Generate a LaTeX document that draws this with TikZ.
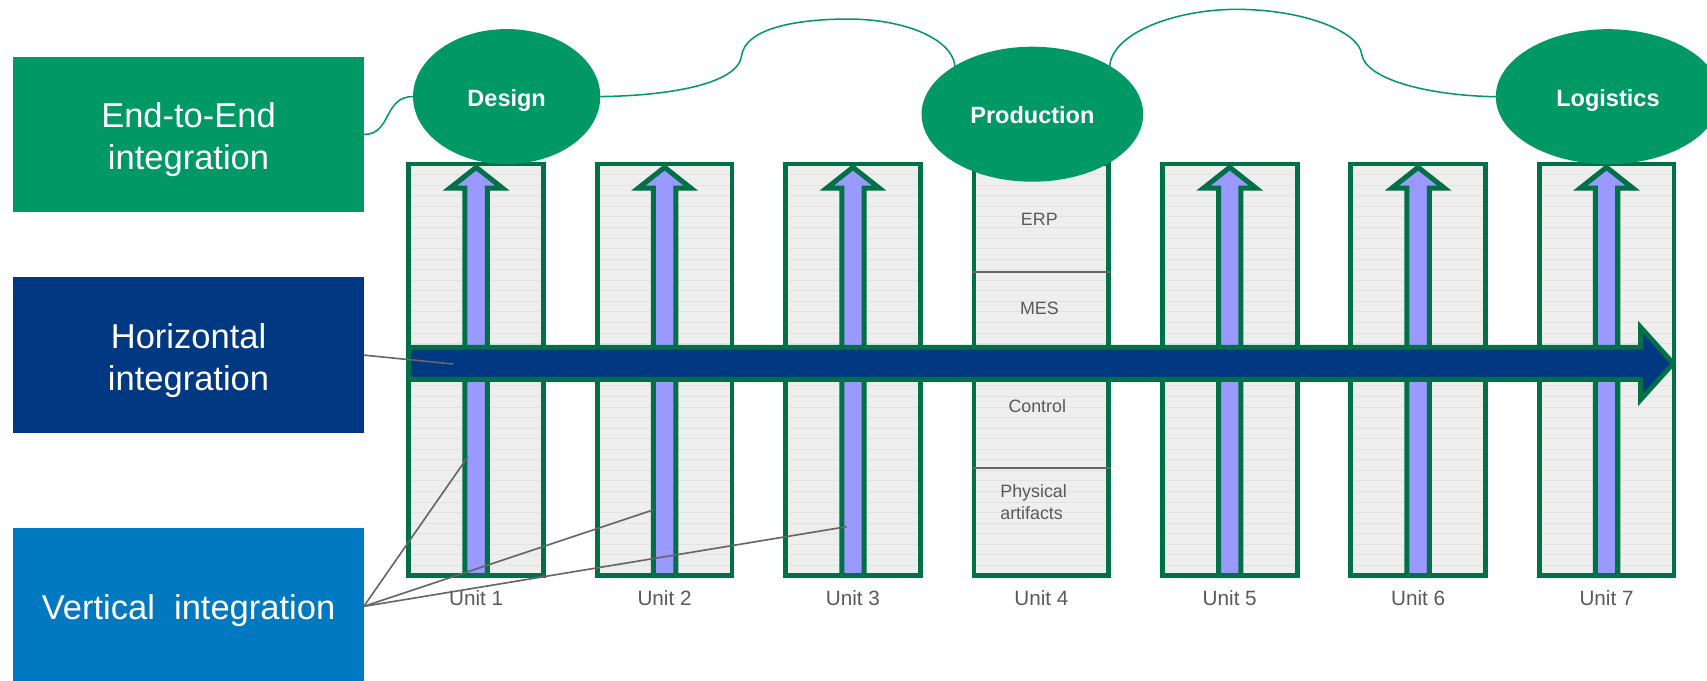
\documentclass[tikz,border=0pt]{standalone}
\usepackage{fontspec}
\setmainfont{Liberation Sans}
\usetikzlibrary{shapes.geometric,calc}
\definecolor{egreen}{HTML}{009966}
\definecolor{dgreen}{HTML}{007047}
\definecolor{hblue}{HTML}{003882}
\definecolor{vblue}{HTML}{0079C1}
\definecolor{lav}{HTML}{9999FF}
\definecolor{boxgray}{HTML}{EEEEEE}
\definecolor{linegray}{HTML}{E2E2E2}
\definecolor{txtgray}{HTML}{595959}
\definecolor{conngray}{HTML}{666666}
\tikzset{
  catbox/.style={rectangle, inner sep=0pt, outer sep=0pt, minimum width=161pt, minimum height=71.5pt},
  cattext/.style={inner sep=0pt, text=white, align=center, font=\fontsize{15.85}{19.5}\selectfont},
  unitbox/.style={rectangle, draw=dgreen, line width=2.2pt, fill=boxgray, outer sep=0pt, inner sep=0pt,
    minimum width=61.9pt, minimum height=189pt,
    path picture={\foreach \k in {1,...,39}{\draw[linegray, line width=0.4pt]
      ($(path picture bounding box.north west)+(0,\k*9.7)$) -- ++(130,0);}}},
  ell/.style={ellipse, fill=egreen, inner sep=0pt, outer sep=0pt, text=white,
    text height=9pt, text depth=0pt,
    font=\bfseries\fontsize{10.8}{13}\selectfont},
  varrow/.style={fill=lav, draw=dgreen, line width=2.3pt, line join=miter},
  harrow/.style={fill=hblue, draw=dgreen, line width=2.2pt, line join=miter},
  cloudline/.style={draw=egreen, line width=0.7pt},
  conn/.style={draw=conngray, line width=0.75pt},
  sepline/.style={draw=conngray, line width=0.9pt},
  unitlabel/.style={text=txtgray, font=\fontsize{9.5}{11}\selectfont, inner sep=0pt},
  layertext/.style={text=txtgray, font=\fontsize{8.2}{10}\selectfont, inner sep=0pt},
}
\begin{document}
\begin{tikzpicture}[x=0.5pt,y=-0.5pt]
\useasboundingbox (0,0) rectangle (1568,625);
\clip (0,0) rectangle (1568,625);

% unit columns
\foreach \i in {1,...,7}{
  \node[unitbox] (u\i) at ({437.4+173.05*(\i-1)},339.7) {};
  \node[unitlabel] (l\i) at ({437.4+173.05*(\i-1)},549) {Unit \i};
}
% vertical arrows
\foreach \i in {1,2,3,5,6,7}{
  \draw[varrow] ($(u\i.south)+(-10.3,0)$) -- ($(u\i.north)+(-10.3,22)$) -- ($(u\i.north)+(-24,22)$)
    -- ($(u\i.north)+(0,3)$) -- ($(u\i.north)+(24,22)$) -- ($(u\i.north)+(10.3,22)$)
    -- ($(u\i.south)+(10.3,0)$) -- cycle;
}
% unit 4 layers
\draw[sepline] ($(u4.north west)+(-2,99.1)$) -- ($(u4.north east)+(2,99.1)$);
\draw[sepline] ($(u4.north west)+(-2,279.5)$) -- ($(u4.north east)+(2,279.5)$);
\node[layertext] (erp) at (954.7,201.2) {ERP};
\node[layertext] (mes) at (954.7,283.2) {MES};
\node[layertext] (ctrl) at (952.8,373.5) {Control};
\node[layertext, anchor=west, align=left] (phys) at (918.5,461.5) {Physical\\artifacts};

% horizontal arrow
\draw[harrow] (375.5,319) -- (1507,319) -- (1507,300.5) -- (1537,333.8) -- (1507,367.2)
  -- (1507,348.5) -- (375.5,348.5) -- cycle;

% category boxes
\node[catbox, fill=egreen] (e2e) at (173.2,123.5) {};
\node[cattext] (e2et) at ($(e2e)+(0,4.5)$) {End-to-End\\integration};
\node[catbox, fill=hblue] (hor) at (173.2,326.2) {};
\node[cattext] (hort) at ($(hor)+(0,5)$) {Horizontal\\integration};
\node[catbox, fill=vblue, minimum height=72pt] (ver) at (173.2,557) {};
\node[cattext] (vert) at ($(ver)+(0,3.5)$) {Vertical\ \ integration};

% ellipses
\node[ell, minimum width=86pt, minimum height=62pt] (design) at (465.4,88.7) {Design};
\node[ell, minimum width=101.8pt, minimum height=62pt] (production) at (948.3,104.9) {Production};
\node[ell, minimum width=103pt, minimum height=62pt] (logistics) at (1477,88.8) {Logistics};

% cloud line
\draw[cloudline] (e2e.east) .. controls (360,123.5) and (352,88.7) .. (design.west);
\draw[cloudline] (design.east) .. controls (615,88) and (677,77) .. (681,52)
  .. controls (684,25) and (735,17.5) .. (779,17.5)
  .. controls (830,17.5) and (874,35) .. (production.148);
\draw[cloudline] (production.32) .. controls (1022,30) and (1080,8.6) .. (1135.6,8.6)
  .. controls (1200,8.6) and (1248,30) .. (1250.6,49)
  .. controls (1254,75) and (1320,88.2) .. (logistics.west);

% connectors
\coordinate (hpt) at (416.4,334.4);
\coordinate (v1) at (429.8,419.5);
\coordinate (v2) at (600,468.4);
\coordinate (v3) at (777.7,483.8);
\draw[conn] (hor.east) -- (hpt);
\draw[conn] (ver.east) -- (v1);
\draw[conn] (ver.east) -- (v2);
\draw[conn] (ver.east) -- (v3);
\end{tikzpicture}
\end{document}
